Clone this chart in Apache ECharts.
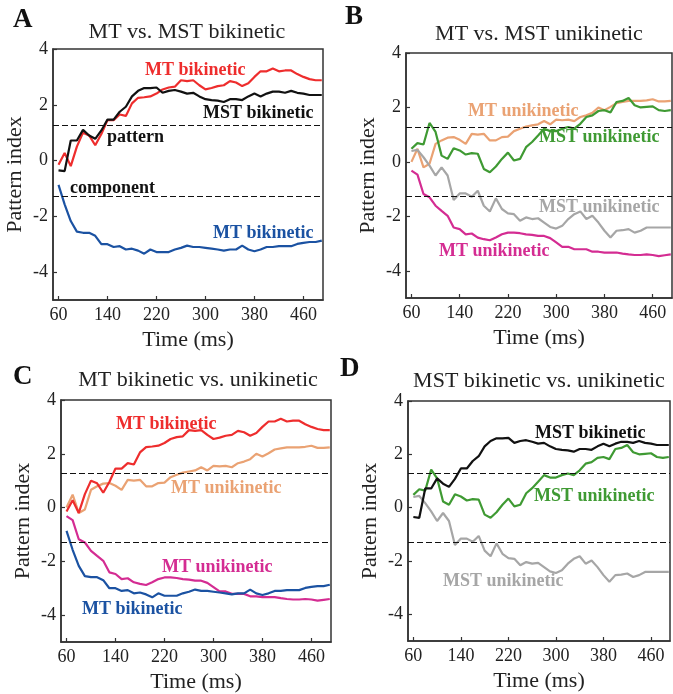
<!DOCTYPE html>
<html>
<head>
<meta charset="utf-8">
<script src="https://cdn.jsdelivr.net/npm/echarts@6/dist/echarts.min.js"></script>
<style>
	html, body { margin: 0; padding: 0; background: #fff; }
	#main { width: 673px; height: 694px; }
</style>
</head>
<body>
<div id="main"></div>
<script>
// time points (ms)
var times = [60, 70, 80, 90, 100, 110, 120, 130, 140, 150,
	160, 170, 180, 190, 200, 210, 220, 230, 240, 250,
	260, 270, 280, 290, 300, 310, 320, 330, 340, 350,
	360, 370, 380, 390, 400, 410, 420, 430, 440, 450,
	460, 470, 480, 490];
var xTicks = [60, 140, 220, 300, 380, 460];
var yTicks = [-4, -2, 0, 2, 4];
var criterion = [1.28, -1.28];

// MT bikinetic, pattern index
var mtBiPattern = [-0.15, 0.27, -0.2, 0.5, 1.0, 0.9, 0.55, 0.95, 1.45, 1.45,
	1.65, 1.6, 2.05, 2.25, 2.27, 2.3, 2.4, 2.55, 2.62, 2.65,
	2.88, 2.85, 2.88, 2.7, 2.55, 2.6, 2.67, 2.7, 2.85, 2.8,
	2.67, 2.77, 3.0, 3.2, 3.2, 3.3, 3.2, 3.23, 3.23, 3.1,
	3.0, 2.92, 2.88, 2.88];
// MT bikinetic, component index
var mtBiComponent = [-0.87, -1.57, -2.17, -2.55, -2.59, -2.59, -2.7, -3.0, -3.0, -3.1,
	-3.07, -3.19, -3.16, -3.23, -3.34, -3.19, -3.28, -3.28, -3.28, -3.19,
	-3.13, -3.05, -3.1, -3.1, -3.13, -3.16, -3.19, -3.23, -3.19, -3.19,
	-3.05, -3.19, -3.25, -3.19, -3.1, -3.1, -3.07, -3.07, -3.07, -2.99,
	-2.95, -2.92, -2.92, -2.87];
// MST bikinetic
var mstBiPattern = [-0.35, -0.38, 0.72, 0.72, 1.1, 0.9, 0.78, 1.08, 1.47, 1.47,
	1.75, 1.93, 2.3, 2.5, 2.6, 2.6, 2.62, 2.43, 2.5, 2.53,
	2.47, 2.4, 2.43, 2.3, 2.2, 2.17, 2.15, 2.1, 2.2, 2.2,
	2.17, 2.3, 2.4, 2.3, 2.4, 2.47, 2.47, 2.43, 2.5, 2.43,
	2.4, 2.35, 2.35, 2.35];
// MT unikinetic
var mtUniPattern = [0.0, 0.48, -0.2, -0.07, 0.66, 0.79, 0.89, 0.91, 0.81, 0.66,
	1.03, 1.0, 1.03, 0.79, 0.79, 0.91, 0.93, 1.13, 1.22, 1.3,
	1.34, 1.38, 1.5, 1.38, 1.55, 1.53, 1.55, 1.5, 1.65, 1.71,
	1.8, 2.0, 1.9, 2.02, 2.16, 2.2, 2.24, 2.24, 2.24, 2.26,
	2.3, 2.22, 2.22, 2.24];
var mtUniComponent = [-0.32, -0.47, -1.18, -1.3, -1.61, -1.8, -1.98, -2.41, -2.47, -2.66,
	-2.63, -2.78, -2.84, -2.88, -2.78, -2.66, -2.6, -2.6, -2.62, -2.66,
	-2.68, -2.72, -2.72, -2.8, -2.96, -3.12, -3.12, -3.21, -3.21, -3.21,
	-3.3, -3.3, -3.33, -3.33, -3.33, -3.37, -3.4, -3.42, -3.42, -3.4,
	-3.42, -3.46, -3.43, -3.4];
// MST unikinetic
var mstUniPattern = [0.48, 0.69, 0.64, 1.43, 1.1, 0.23, 0.11, 0.5, 0.42, 0.27,
	0.32, 0.3, -0.26, -0.38, -0.17, 0.11, 0.34, 0.05, 0.11, 0.54,
	0.73, 0.97, 1.22, 1.13, 1.13, 1.22, 1.28, 1.22, 1.4, 1.65,
	1.71, 1.87, 1.9, 1.82, 2.2, 2.24, 2.35, 2.08, 2.0, 2.02,
	2.04, 1.9, 1.87, 1.9];
var mstUniComponent = [0.4, 0.44, 0.17, -0.14, -0.5, -0.2, -0.5, -1.4, -1.16, -1.16,
	-1.28, -1.06, -1.61, -1.82, -1.34, -1.73, -1.89, -1.92, -2.16, -2.04,
	-2.1, -2.07, -2.23, -2.39, -2.45, -2.35, -2.1, -1.92, -1.82, -2.1,
	-1.98, -2.23, -2.53, -2.78, -2.53, -2.51, -2.47, -2.6, -2.53, -2.41,
	-2.41, -2.41, -2.41, -2.41];

var RED = '#ee2d2d',
	BLUE = '#1b52a2',
	BLACK = '#111111',
	ORANGE = '#eaa273',
	MAGENTA = '#d42c92',
	GREEN = '#3f9a33',
	GRAY = '#a6a6a6';
var SERIF = '"Liberation Serif", "DejaVu Serif", serif';

var panels = [
	{
		letter : 'A', letterPos : [13, 21],
		title : 'MT vs. MST bikinetic', titlePos : [187, 32],
		grid : {left : 53, top : 49, width : 270, height : 251},
		lines : [[mtBiPattern, RED], [mstBiPattern, BLACK], [mtBiComponent, BLUE]],
		labels : [
			['MT bikinetic', RED, 145, 70],
			['MST bikinetic', BLACK, 203, 113],
			['pattern', BLACK, 107, 137],
			['component', BLACK, 70, 188],
			['MT bikinetic', BLUE, 213, 233]
		]
	},
	{
		letter : 'B', letterPos : [345, 18],
		title : 'MT vs. MST unikinetic', titlePos : [539, 34],
		grid : {left : 406, top : 53, width : 266, height : 245},
		lines : [[mtUniPattern, ORANGE], [mstUniPattern, GREEN], [mstUniComponent, GRAY], [mtUniComponent, MAGENTA]],
		labels : [
			['MT unikinetic', ORANGE, 468, 111],
			['MST unikinetic', GREEN, 539, 137],
			['MST unikinetic', GRAY, 539, 207],
			['MT unikinetic', MAGENTA, 439, 251]
		]
	},
	{
		letter : 'C', letterPos : [13, 378],
		title : 'MT bikinetic vs. unikinetic', titlePos : [198, 380],
		grid : {left : 61, top : 400, width : 270, height : 244},
		lines : [[mtUniPattern, ORANGE], [mtBiPattern, RED], [mtUniComponent, MAGENTA], [mtBiComponent, BLUE]],
		labels : [
			['MT bikinetic', RED, 116, 424],
			['MT unikinetic', ORANGE, 171, 488],
			['MT unikinetic', MAGENTA, 162, 567],
			['MT bikinetic', BLUE, 82, 609]
		]
	},
	{
		letter : 'D', letterPos : [340, 370],
		title : 'MST bikinetic vs. unikinetic', titlePos : [539, 381],
		grid : {left : 408, top : 401, width : 262, height : 240},
		lines : [[mstUniComponent, GRAY], [mstUniPattern, GREEN], [mstBiPattern, BLACK]],
		labels : [
			['MST bikinetic', BLACK, 535, 433],
			['MST unikinetic', GREEN, 534, 496],
			['MST unikinetic', GRAY, 443, 581]
		]
	}
];

function pairs(vals){
	return times.map(function(t, i){
		return [t, vals[i]];
	});
}

var grids = [], xAxes = [], yAxes = [], series = [], graphics = [];

panels.forEach(function(p, idx){
	grids.push({
		left : p.grid.left,
		top : p.grid.top,
		width : p.grid.width,
		height : p.grid.height,
		show : true,
		borderColor : '#333',
		borderWidth : 1.5,
		backgroundColor : 'transparent'
	});
	xAxes.push({
		type : 'value',
		gridIndex : idx,
		min : 51,
		max : 492,
		name : 'Time (ms)',
		nameLocation : 'middle',
		nameGap : 29,
		nameTextStyle : {fontFamily : SERIF, fontSize : 22, color : '#222'},
		splitLine : {show : false},
		axisLine : {show : true, onZero : false, lineStyle : {color : '#333', width : 1.5}},
		axisTick : {show : true, inside : true, length : 4, customValues : xTicks, lineStyle : {color : '#333', width : 1.2}},
		axisLabel : {customValues : xTicks, fontFamily : SERIF, fontSize : 18, color : '#222', margin : 6}
	});
	yAxes.push({
		type : 'value',
		gridIndex : idx,
		min : -5,
		max : 4,
		name : 'Pattern index',
		nameLocation : 'middle',
		nameGap : 27,
		nameTextStyle : {fontFamily : SERIF, fontSize : 22, color : '#222'},
		splitLine : {show : false},
		axisLine : {show : true, onZero : false, lineStyle : {color : '#333', width : 1.5}},
		axisTick : {show : true, inside : true, length : 4, customValues : yTicks, lineStyle : {color : '#333', width : 1.2}},
		axisLabel : {customValues : yTicks, fontFamily : SERIF, fontSize : 18, color : '#222', margin : 5}
	});
	//criterion lines
	series.push({
		type : 'line',
		xAxisIndex : idx,
		yAxisIndex : idx,
		data : [],
		silent : true,
		markLine : {
			silent : true,
			symbol : 'none',
			label : {show : false},
			lineStyle : {color : '#111', type : [6, 3], width : 1.2},
			data : criterion.map(function(v){ return {yAxis : v}; })
		}
	});
	p.lines.forEach(function(l){
		series.push({
			type : 'line',
			xAxisIndex : idx,
			yAxisIndex : idx,
			data : pairs(l[0]),
			showSymbol : false,
			silent : true,
			lineStyle : {color : l[1], width : 2.2},
			itemStyle : {color : l[1]}
		});
	});
	graphics.push({
		type : 'text',
		left : p.letterPos[0],
		top : p.letterPos[1] - 14,
		style : {text : p.letter, font : 'bold 27px ' + SERIF, fill : '#111'}
	});
	graphics.push({
		type : 'text',
		x : p.titlePos[0],
		y : p.titlePos[1],
		style : {text : p.title, font : '22px ' + SERIF, fill : '#222', align : 'center', verticalAlign : 'middle'}
	});
	p.labels.forEach(function(lb){
		graphics.push({
			type : 'text',
			x : lb[2],
			y : lb[3],
			style : {text : lb[0], font : 'bold 18px ' + SERIF, fill : lb[1], align : 'left', verticalAlign : 'middle'}
		});
	});
});

var chart = echarts.init(document.getElementById('main'), null, {renderer : 'canvas'});
chart.setOption({
	animation : false,
	grid : grids,
	xAxis : xAxes,
	yAxis : yAxes,
	series : series,
	graphic : graphics
});
</script>
</body>
</html>
